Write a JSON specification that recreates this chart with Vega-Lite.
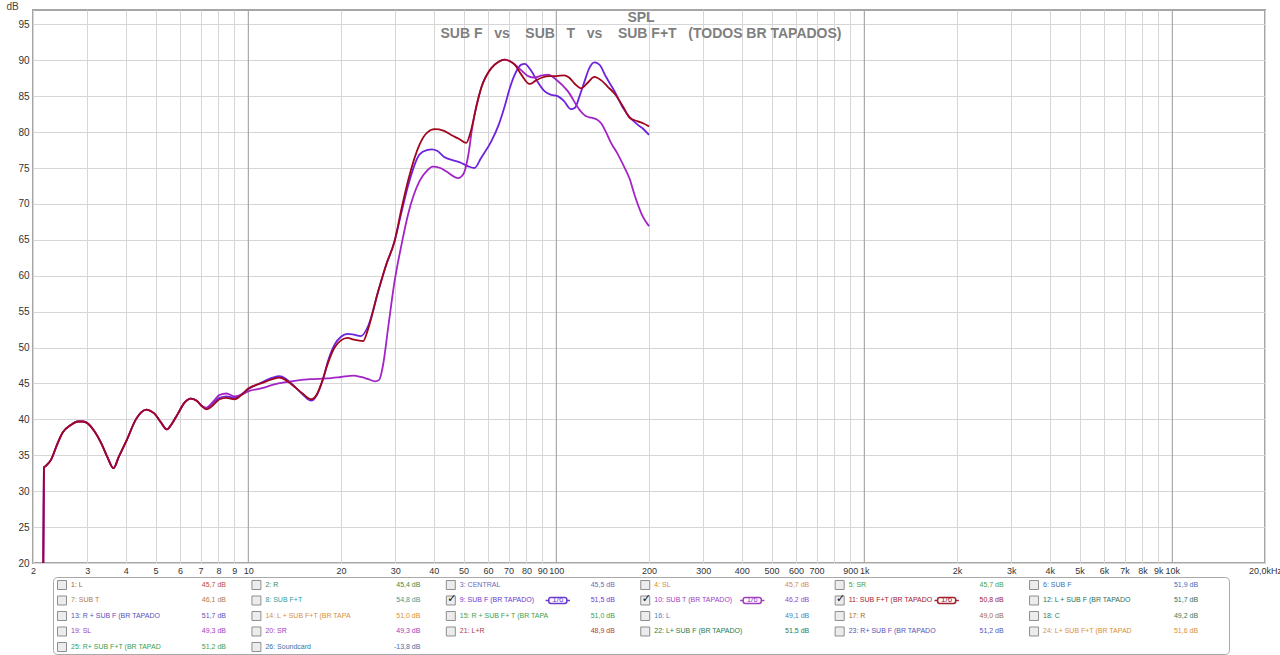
{
  "$schema": "https://vega.github.io/schema/vega-lite/v6.json",
  "autosize": {"type": "pad"},
  "padding": {"left": 5, "top": 0, "right": 0, "bottom": 0},
  "background": "#ffffff",
  "config": {"font": "Liberation Sans", "view": {"stroke": null}},
  "datasets": {
    "decades": [{"f": 10}, {"f": 100}, {"f": 1000}, {"f": 10000}],
    "subF": [
      {"f":2.16,"db":20},{"f":2.17,"db":33.3},{"f":2.2,"db":33.5},{"f":2.29,"db":34.4},{"f":2.4,"db":36.6},{"f":2.5,"db":38.2},{"f":2.65,"db":39.2},{"f":2.8,"db":39.7},{"f":2.9,"db":39.7},{"f":3.02,"db":39.4},{"f":3.17,"db":38.3},{"f":3.33,"db":36.7},{"f":3.5,"db":34.6},{"f":3.65,"db":33.2},{"f":3.8,"db":34.8},{"f":4.02,"db":37.0},{"f":4.33,"db":40.1},{"f":4.5,"db":41.0},{"f":4.67,"db":41.35},{"f":4.85,"db":41.1},{"f":4.96,"db":40.8},{"f":5.2,"db":39.6},{"f":5.44,"db":38.6},{"f":5.65,"db":39.4},{"f":5.91,"db":40.8},{"f":6.2,"db":42.3},{"f":6.5,"db":42.9},{"f":6.8,"db":42.6},{"f":7.05,"db":41.9},
      {"f":7.3,"db":41.6},{"f":7.7,"db":42.3},{"f":8.07,"db":43.0},{"f":8.5,"db":43.2},{"f":9.03,"db":43.0},{"f":9.5,"db":43.5},{"f":10,"db":44.2},{"f":11,"db":45.1},{"f":12,"db":45.8},{"f":12.6,"db":46.0},{"f":13.2,"db":45.7},{"f":13.8,"db":45.0},{"f":15,"db":43.5},{"f":16,"db":42.6},{"f":16.7,"db":43.4},{"f":17.4,"db":45.3},{"f":18.2,"db":48.3},{"f":19.06,"db":50.4},{"f":20,"db":51.5},{"f":21,"db":51.9},{"f":22,"db":51.8},{"f":23.2,"db":51.6},{"f":24.5,"db":53.0},{"f":26.4,"db":57.8},{"f":28,"db":61.4},{"f":29.85,"db":64.8},{"f":31.5,"db":69.0},{"f":33,"db":72.5},{"f":36,"db":76.9},{"f":38,"db":77.5},{"f":39.5,"db":77.6},{"f":41,"db":77.4},{"f":43.4,"db":76.5},{"f":46,"db":76.1},{"f":49.2,"db":75.7},{"f":52,"db":75.2},{"f":54.3,"db":75.0},{"f":57,"db":76.4},{"f":61.5,"db":78.7},{"f":65,"db":81.0},{"f":68,"db":83.6},{"f":70.5,"db":86.0},{"f":73.3,"db":88.0},{"f":77,"db":89.4},{"f":79,"db":89.5},{"f":83,"db":88.5},{"f":87,"db":87.0},{"f":91.6,"db":85.7},{"f":96,"db":85.2},{"f":101,"db":85.0},{"f":106,"db":84.3},{"f":111.5,"db":83.2},{"f":115,"db":83.4},{"f":119,"db":85.0},{"f":123.6,"db":87.1},{"f":128,"db":88.9},{"f":133,"db":89.7},{"f":138,"db":89.4},{"f":145,"db":87.7},{"f":155,"db":85.6},{"f":165,"db":83.3},{"f":173,"db":82.1},{"f":184,"db":81.0},{"f":192,"db":80.4},{"f":200,"db":79.6}
    ],
    "subT": [
      {"f":2.16,"db":20},{"f":2.17,"db":33.3},{"f":2.2,"db":33.5},{"f":2.29,"db":34.4},{"f":2.4,"db":36.6},{"f":2.5,"db":38.2},{"f":2.65,"db":39.2},{"f":2.8,"db":39.7},{"f":2.9,"db":39.7},{"f":3.02,"db":39.4},{"f":3.17,"db":38.3},{"f":3.33,"db":36.7},{"f":3.5,"db":34.6},{"f":3.65,"db":33.2},{"f":3.8,"db":34.8},{"f":4.02,"db":37.0},{"f":4.33,"db":40.1},{"f":4.5,"db":41.0},{"f":4.67,"db":41.35},{"f":4.85,"db":41.1},{"f":4.96,"db":40.8},{"f":5.2,"db":39.6},{"f":5.44,"db":38.6},{"f":5.65,"db":39.4},{"f":5.91,"db":40.8},{"f":6.2,"db":42.3},{"f":6.5,"db":42.9},{"f":6.8,"db":42.6},{"f":7.05,"db":41.9},
      {"f":7.3,"db":41.6},{"f":7.7,"db":42.5},{"f":8.07,"db":43.4},{"f":8.5,"db":43.6},{"f":9.03,"db":43.2},{"f":9.5,"db":43.4},{"f":10,"db":43.9},{"f":11,"db":44.3},{"f":12.5,"db":45.0},{"f":13.8,"db":45.3},{"f":15.9,"db":45.6},{"f":18,"db":45.7},{"f":20,"db":45.9},{"f":22,"db":46.1},{"f":23.2,"db":45.9},{"f":24.5,"db":45.6},{"f":25.8,"db":45.3},{"f":26.6,"db":45.5},{"f":27.4,"db":47.6},{"f":28.5,"db":53.0},{"f":29.85,"db":59.2},{"f":31.5,"db":64.5},{"f":33,"db":68.5},{"f":36,"db":73.2},{"f":38,"db":74.6},{"f":39.7,"db":75.2},{"f":42,"db":75.0},{"f":44,"db":74.5},{"f":48,"db":73.6},{"f":50,"db":74.2},{"f":51.7,"db":76.6},{"f":53.5,"db":81.0},{"f":57.1,"db":86.2},{"f":61.5,"db":88.9},{"f":65,"db":89.8},{"f":68,"db":90.1},{"f":70.5,"db":89.9},{"f":73.3,"db":89.4},{"f":77,"db":88.6},{"f":81,"db":87.8},{"f":85,"db":87.6},{"f":90,"db":87.9},{"f":94,"db":88.0},{"f":100,"db":87.3},{"f":109,"db":85.7},{"f":119,"db":83.1},{"f":125,"db":82.2},{"f":130,"db":82.0},{"f":136,"db":81.7},{"f":140,"db":81.2},{"f":145,"db":80.0},{"f":150.6,"db":78.5},{"f":158,"db":77.0},{"f":166,"db":75.2},{"f":173,"db":73.5},{"f":180,"db":71.1},{"f":190.6,"db":68.3},{"f":200,"db":66.9}
    ],
    "subFT": [
      {"f":2.16,"db":20},{"f":2.17,"db":33.3},{"f":2.2,"db":33.5},{"f":2.29,"db":34.4},{"f":2.4,"db":36.6},{"f":2.5,"db":38.2},{"f":2.65,"db":39.2},{"f":2.8,"db":39.7},{"f":2.9,"db":39.7},{"f":3.02,"db":39.4},{"f":3.17,"db":38.3},{"f":3.33,"db":36.7},{"f":3.5,"db":34.6},{"f":3.65,"db":33.2},{"f":3.8,"db":34.8},{"f":4.02,"db":37.0},{"f":4.33,"db":40.1},{"f":4.5,"db":41.0},{"f":4.67,"db":41.35},{"f":4.85,"db":41.1},{"f":4.96,"db":40.8},{"f":5.2,"db":39.6},{"f":5.44,"db":38.6},{"f":5.65,"db":39.4},{"f":5.91,"db":40.8},{"f":6.2,"db":42.3},{"f":6.5,"db":42.9},{"f":6.8,"db":42.6},{"f":7.05,"db":41.9},
      {"f":7.3,"db":41.4},{"f":7.7,"db":42.0},{"f":8.07,"db":42.8},{"f":8.5,"db":43.0},{"f":9.03,"db":42.8},{"f":9.5,"db":43.4},{"f":10,"db":44.3},{"f":11,"db":45.0},{"f":12,"db":45.6},{"f":12.6,"db":45.8},{"f":13.2,"db":45.5},{"f":13.8,"db":44.9},{"f":15,"db":43.6},{"f":16,"db":42.8},{"f":16.7,"db":43.5},{"f":17.4,"db":45.4},{"f":18.2,"db":48.0},{"f":19.06,"db":50.0},{"f":20,"db":51.0},{"f":21,"db":51.35},{"f":22,"db":51.1},{"f":23.6,"db":50.9},{"f":24.5,"db":52.6},{"f":26.4,"db":57.8},{"f":28,"db":61.5},{"f":29.85,"db":64.8},{"f":31.5,"db":69.5},{"f":33,"db":73.2},{"f":36,"db":78.3},{"f":38,"db":79.9},{"f":40.3,"db":80.4},{"f":43,"db":80.2},{"f":45.6,"db":79.6},{"f":48.5,"db":79.0},{"f":51,"db":78.5},{"f":53,"db":80.4},{"f":55,"db":83.5},{"f":57.1,"db":86.2},{"f":61.5,"db":88.9},{"f":65,"db":89.8},{"f":68,"db":90.1},{"f":70.5,"db":89.9},{"f":73.3,"db":89.4},{"f":77,"db":88.0},{"f":81.9,"db":86.7},{"f":86,"db":87.2},{"f":90,"db":87.6},{"f":95,"db":87.8},{"f":100,"db":87.8},{"f":106,"db":87.9},{"f":110,"db":87.6},{"f":115,"db":86.7},{"f":120.5,"db":86.1},{"f":126,"db":86.8},{"f":133,"db":87.7},{"f":140,"db":87.2},{"f":147,"db":86.3},{"f":155,"db":85.3},{"f":165,"db":83.5},{"f":173,"db":82.0},{"f":184,"db":81.5},{"f":192,"db":81.2},{"f":200,"db":80.8}
    ],
    "items": [
      {"id":1,"row":0,"col":0,"label":"1: L","value":"45,7 dB","checked":false},
      {"id":2,"row":0,"col":1,"label":"2: R","value":"45,4 dB","checked":false},
      {"id":3,"row":0,"col":2,"label":"3: CENTRAL","value":"45,5 dB","checked":false},
      {"id":4,"row":0,"col":3,"label":"4: SL","value":"45,7 dB","checked":false},
      {"id":5,"row":0,"col":4,"label":"5: SR","value":"45,7 dB","checked":false},
      {"id":6,"row":0,"col":5,"label":"6: SUB F","value":"51,9 dB","checked":false},
      {"id":7,"row":1,"col":0,"label":"7: SUB T","value":"46,1 dB","checked":false},
      {"id":8,"row":1,"col":1,"label":"8: SUB F+T","value":"54,8 dB","checked":false},
      {"id":9,"row":1,"col":2,"label":"9: SUB F (BR TAPADO)","value":"51,5 dB","checked":true},
      {"id":10,"row":1,"col":3,"label":"10: SUB T (BR TAPADO)","value":"46,2 dB","checked":true},
      {"id":11,"row":1,"col":4,"label":"11: SUB F+T (BR TAPADO","value":"50,8 dB","checked":true},
      {"id":12,"row":1,"col":5,"label":"12: L + SUB F (BR TAPADO","value":"51,7 dB","checked":false},
      {"id":13,"row":2,"col":0,"label":"13: R + SUB F (BR TAPADO","value":"51,7 dB","checked":false},
      {"id":14,"row":2,"col":1,"label":"14: L + SUB F+T (BR TAPA","value":"51,0 dB","checked":false},
      {"id":15,"row":2,"col":2,"label":"15: R + SUB F+ T (BR TAPA","value":"51,0 dB","checked":false},
      {"id":16,"row":2,"col":3,"label":"16: L","value":"49,1 dB","checked":false},
      {"id":17,"row":2,"col":4,"label":"17: R","value":"49,0 dB","checked":false},
      {"id":18,"row":2,"col":5,"label":"18: C","value":"49,2 dB","checked":false},
      {"id":19,"row":3,"col":0,"label":"19: SL","value":"49,3 dB","checked":false},
      {"id":20,"row":3,"col":1,"label":"20: SR","value":"49,3 dB","checked":false},
      {"id":21,"row":3,"col":2,"label":"21: L+R","value":"48,9 dB","checked":false},
      {"id":22,"row":3,"col":3,"label":"22: L+ SUB F (BR TAPADO)","value":"51,5 dB","checked":false},
      {"id":23,"row":3,"col":4,"label":"23: R+ SUB F (BR TAPADO","value":"51,2 dB","checked":false},
      {"id":24,"row":3,"col":5,"label":"24: L+ SUB F+T (BR TAPAD","value":"51,6 dB","checked":false},
      {"id":25,"row":4,"col":0,"label":"25: R+ SUB F+T (BR TAPAD","value":"51,2 dB","checked":false},
      {"id":26,"row":4,"col":1,"label":"26: Soundcard","value":"-13,8 dB","checked":false}
    ]
  },
  "bounds": "flush",
  "spacing": 14,
  "vconcat": [
    {
      "width": 1232,
      "height": 553,
      "view": {"stroke": "#a6a6a6", "strokeWidth": 2},
      "title": {
        "text": "SPL",
        "subtitle": "SUB F\u00a0\u00a0\u00a0vs\u00a0\u00a0\u00a0\u00a0SUB\u00a0\u00a0\u00a0T\u00a0\u00a0\u00a0vs\u00a0\u00a0\u00a0\u00a0SUB F+T\u00a0\u00a0\u00a0(TODOS BR TAPADOS)",
        "anchor": "middle",
        "frame": "group",
        "offset": -40,
        "dx": -8,
        "font": "Liberation Sans",
        "fontSize": 14,
        "fontWeight": "bold",
        "color": "#7f7f7f",
        "subtitleFont": "Liberation Sans",
        "subtitleFontSize": 14,
        "subtitleFontWeight": "bold",
        "subtitleColor": "#7f7f7f",
        "subtitlePadding": 2
      },
      "encoding": {
        "x": {
          "field": "f",
          "type": "quantitative",
          "scale": {"type": "log", "domain": [2, 20000], "nice": false},
          "axis": {
            "title": null,
            "values": [2,3,4,5,6,7,8,9,10,20,30,40,50,60,70,80,90,100,200,300,400,500,600,700,800,900,1000,2000,3000,4000,5000,6000,7000,8000,9000,10000,20000],
            "labelExpr": "datum.value == 800 ? '' : datum.value == 20000 ? '20,0kHz' : datum.value >= 1000 ? (datum.value / 1000) + 'k' : '' + datum.value",
            "labelOverlap": false,
            "labelFlush": false,
            "labelBound": false,
            "labelFontSize": 9,
            "labelColor": "#333333",
            "labelPadding": 3,
            "ticks": false,
            "domain": false,
            "grid": true,
            "gridColor": "#d6d6d6",
            "gridWidth": 1
          }
        }
      },
      "layer": [
        {
          "data": {"name": "decades"},
          "mark": {"type": "rule", "color": "#a0a0a0", "strokeWidth": 1}
        },
        {
          "data": {"name": "subF"},
          "mark": {"type": "line", "color": "#6e22e0", "strokeWidth": 1.8, "interpolate": "monotone"},
          "encoding": {
            "y": {"field": "db", "type": "quantitative", "scale": {"domain": [20, 97], "nice": false, "zero": false},
              "axis": {"title": "dB", "titleAngle": 0, "titleX": -27, "titleY": -9, "titleBaseline": "top", "titleAlign": "left", "titleFontSize": 10, "titleFontWeight": "normal", "titleColor": "#444444", "values": [20,25,30,35,40,45,50,55,60,65,70,75,80,85,90,95], "labelFontSize": 10, "labelColor": "#333333", "labelPadding": 4, "ticks": false, "domain": false, "grid": true, "gridColor": "#d6d6d6", "gridWidth": 1}}
          }
        },
        {
          "data": {"name": "subT"},
          "mark": {"type": "line", "color": "#a324c6", "strokeWidth": 1.8, "interpolate": "monotone"},
          "encoding": {
            "y": {"field": "db", "type": "quantitative", "scale": {"domain": [20, 97], "nice": false, "zero": false},
              "axis": {"title": "dB", "titleAngle": 0, "titleX": -27, "titleY": -9, "titleBaseline": "top", "titleAlign": "left", "titleFontSize": 10, "titleFontWeight": "normal", "titleColor": "#444444", "values": [20,25,30,35,40,45,50,55,60,65,70,75,80,85,90,95], "labelFontSize": 10, "labelColor": "#333333", "labelPadding": 4, "ticks": false, "domain": false, "grid": true, "gridColor": "#d6d6d6", "gridWidth": 1}}
          }
        },
        {
          "data": {"name": "subFT"},
          "mark": {"type": "line", "color": "#a0061c", "strokeWidth": 1.8, "interpolate": "monotone"},
          "encoding": {
            "y": {"field": "db", "type": "quantitative", "scale": {"domain": [20, 97], "nice": false, "zero": false},
              "axis": {"title": "dB", "titleAngle": 0, "titleX": -27, "titleY": -9, "titleBaseline": "top", "titleAlign": "left", "titleFontSize": 10, "titleFontWeight": "normal", "titleColor": "#444444", "values": [20,25,30,35,40,45,50,55,60,65,70,75,80,85,90,95], "labelFontSize": 10, "labelColor": "#333333", "labelPadding": 4, "ticks": false, "domain": false, "grid": true, "gridColor": "#d6d6d6", "gridWidth": 1}}
          }
        }
      ]
    },
    {
      "bounds": "flush",
      "spacing": 0,
      "hconcat": [
        {
          "width": 20,
          "height": 77,
          "data": {"values": [{"a": 0}]},
          "mark": {"type": "point", "opacity": 0},
          "encoding": {}
        },
        {
          "width": 1176,
          "height": 77,
          "view": {"stroke": "#a9a9a9", "strokeWidth": 1, "cornerRadius": 4},
          "data": {"name": "items"},
          "encoding": {
            "x": {"field": "col", "type": "quantitative", "scale": {"domain": [0, 6.049], "nice": false, "zero": false}, "axis": null},
            "y": {"field": "row", "type": "quantitative", "scale": {"domain": [-0.516, 4.452], "reverse": true, "nice": false, "zero": false}, "axis": null}
          },
          "layer": [
            {
              "mark": {"type": "point", "shape": "square", "size": 81, "filled": true, "fill": "#ececec", "stroke": "#8e8e8e", "strokeWidth": 1, "opacity": 1, "xOffset": 9}
            },
            {
              "transform": [{"filter": "datum.checked"}],
              "mark": {"type": "text", "text": "✓", "font": "DejaVu Sans", "fontSize": 11, "fontWeight": "bold", "color": "#111111", "align": "center", "baseline": "middle", "dx": 10, "dy": -1}
            },
            {
              "mark": {"type": "text", "align": "left", "baseline": "middle", "dx": 18, "fontSize": 7},
              "encoding": {
                "text": {"field": "label"},
                "color": {"field": "id", "type": "nominal", "legend": null,
                  "scale": {"domain": [1,2,3,4,5,6,7,8,9,10,11,12,13,14,15,16,17,18,19,20,21,22,23,24,25,26],
                    "range": ["#b84a3e","#3a8a50","#6a6ab8","#d8893a","#4aa040","#3a70b8","#b07a4a","#3a9a9a","#6a3ad0","#a040c0","#a02030","#2a7060","#5a50b8","#d89040","#3aa050","#4a80c0","#a06a3a","#3a7a5a","#a040c0","#a040c0","#b03a4a","#2a7a4a","#5a50b8","#d89040","#3aa050","#3a70a8"]}}
              }
            },
            {
              "mark": {"type": "text", "align": "right", "baseline": "middle", "dx": 173, "fontSize": 7},
              "encoding": {
                "text": {"field": "value"},
                "color": {"field": "id", "type": "nominal", "legend": null,
                  "scale": {"domain": [1,2,3,4,5,6,7,8,9,10,11,12,13,14,15,16,17,18,19,20,21,22,23,24,25,26],
                    "range": ["#b84a3e","#3a8a50","#6a6ab8","#d8893a","#4aa040","#3a70b8","#b07a4a","#3a9a9a","#6a3ad0","#a040c0","#a02030","#2a7060","#5a50b8","#d89040","#3aa050","#4a80c0","#a06a3a","#3a7a5a","#a040c0","#a040c0","#b03a4a","#2a7a4a","#5a50b8","#d89040","#3aa050","#3a70a8"]}}
              }
            },
            {
              "transform": [{"filter": "datum.checked"}],
              "mark": {"type": "point", "shape": "M-1.35,0H-1M1,0H1.35M-0.78,-0.33H0.78Q1,-0.33 1,-0.12V0.12Q1,0.33 0.78,0.33H-0.78Q-1,0.33 -1,0.12V-0.12Q-1,-0.33 -0.78,-0.33Z", "size": 324, "filled": true, "fill": "#ffffff", "strokeWidth": 1.5, "opacity": 1, "xOffset": 116},
              "encoding": {
                "stroke": {"field": "id", "type": "nominal", "legend": null,
                  "scale": {"domain": [9, 10, 11], "range": ["#6a3ad0", "#a040c0", "#a02030"]}}
              }
            },
            {
              "transform": [{"filter": "datum.checked"}],
              "mark": {"type": "text", "text": "1/6", "align": "center", "baseline": "middle", "dx": 116, "fontSize": 8},
              "encoding": {
                "color": {"field": "id", "type": "nominal", "legend": null,
                  "scale": {"domain": [1,2,3,4,5,6,7,8,9,10,11,12,13,14,15,16,17,18,19,20,21,22,23,24,25,26],
                    "range": ["#b84a3e","#3a8a50","#6a6ab8","#d8893a","#4aa040","#3a70b8","#b07a4a","#3a9a9a","#6a3ad0","#a040c0","#a02030","#2a7060","#5a50b8","#d89040","#3aa050","#4a80c0","#a06a3a","#3a7a5a","#a040c0","#a040c0","#b03a4a","#2a7a4a","#5a50b8","#d89040","#3aa050","#3a70a8"]}}
              }
            }
          ]
        }
      ]
    }
  ]
}
